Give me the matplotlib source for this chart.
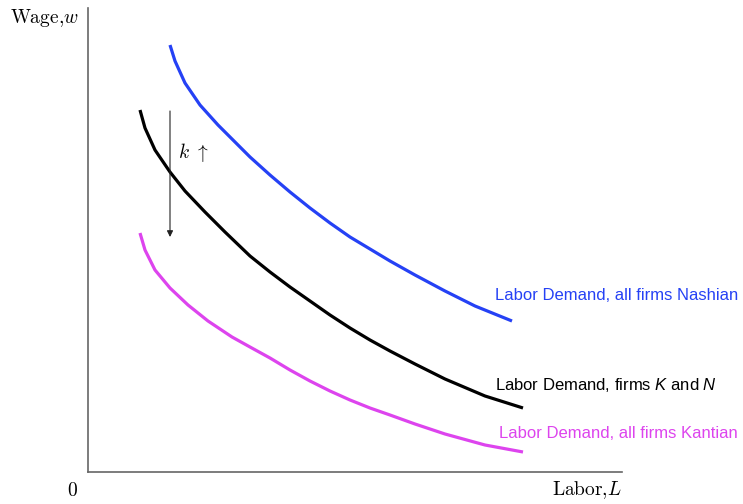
import matplotlib
matplotlib.use("Agg")
import matplotlib.pyplot as plt

plt.rcParams['mathtext.fontset'] = 'cm'
plt.rcParams['mathtext.rm'] = 'Liberation Sans'
plt.rcParams['mathtext.it'] = 'Liberation Sans:italic'
plt.rcParams['mathtext.sf'] = 'Liberation Sans'

# Data (arbitrary units)
nash_L = [82, 87, 97, 112, 130, 147, 162, 182, 202, 222, 242, 262, 282, 302, 327, 357, 387, 424]
nash_w = [427, 411, 389, 367, 347, 330, 315, 297, 280, 264, 249, 235, 223, 211, 197, 181, 166, 151]

kn_L = [52, 57, 67, 82, 97, 117, 137, 162, 182, 202, 222, 242, 262, 282, 302, 327, 357, 397, 435]
kn_w = [362, 344, 322, 300, 281, 260, 240, 216, 200, 185, 171, 157, 144, 132, 121, 108, 93, 76, 64]

kant_L = [52, 57, 67, 82, 100, 120, 144, 162, 182, 202, 222, 242, 262, 282, 302, 327, 357, 397, 435]
kant_w = [239, 222, 202, 184, 167, 151, 135, 125, 114, 102, 91, 81, 72, 64, 57, 48, 38, 27, 20]

arrow_L = 82
arrow_w_start = 361
arrow_w_end = 235

labels = ["Labor Demand, all firms Nashian",
          "Labor Demand, firms $K$ and $N$",
          "Labor Demand, all firms Kantian"]

blue = '#2541f5'
magenta = '#dd44ee'

fig = plt.figure(figsize=(7.43, 5.04), dpi=100)
ax = fig.add_axes([88/743, 32/504, 534/743, 464/504])
ax.set_xlim(0, 534)
ax.set_ylim(0, 464)
for s in ['top', 'right']:
    ax.spines[s].set_visible(False)
for s in ['left', 'bottom']:
    ax.spines[s].set_color('#666666')
    ax.spines[s].set_linewidth(1.2)
ax.set_xticks([])
ax.set_yticks([])

kw = dict(lw=2.3, solid_capstyle='butt', solid_joinstyle='round')
ax.plot(nash_L, nash_w, color=blue, **kw)
ax.plot(kn_L, kn_w, color='black', **kw)
ax.plot(kant_L, kant_w, color=magenta, **kw)

ax.annotate('', xy=(arrow_L, arrow_w_end), xytext=(arrow_L, arrow_w_start),
            arrowprops=dict(arrowstyle='-|>', color='#222222', lw=0.8,
                            mutation_scale=9, shrinkA=0, shrinkB=0))
ax.text(arrow_L + 8, 320, '$k\\ \\uparrow$', fontsize=14, va='center', ha='left',
        math_fontfamily='cm')

sans = 'Liberation Sans'
ax.text(407, 176, labels[0], color=blue, fontsize=12, family=sans,
        va='center', ha='left', clip_on=False)
ax.text(407, 87, labels[1], color='black', fontsize=12, family=sans,
        va='center', ha='left', clip_on=False, math_fontfamily='custom')
ax.text(411, 38, labels[2], color=magenta, fontsize=12, family=sans,
        va='center', ha='left', clip_on=False)

fig.text(10/743, 1 - 18/504, '$\\mathrm{Wage}{,}w$', fontsize=14, va='center', ha='left',
         math_fontfamily='cm')
fig.text(72/743, 1 - 490/504, '$0$', fontsize=14, va='center', ha='center',
         math_fontfamily='cm')
fig.text(622/743, 1 - 490/504, '$\\mathrm{Labor}{,}L$', fontsize=14, va='center', ha='right',
         math_fontfamily='cm')

fig.savefig('out.png', dpi=100)
